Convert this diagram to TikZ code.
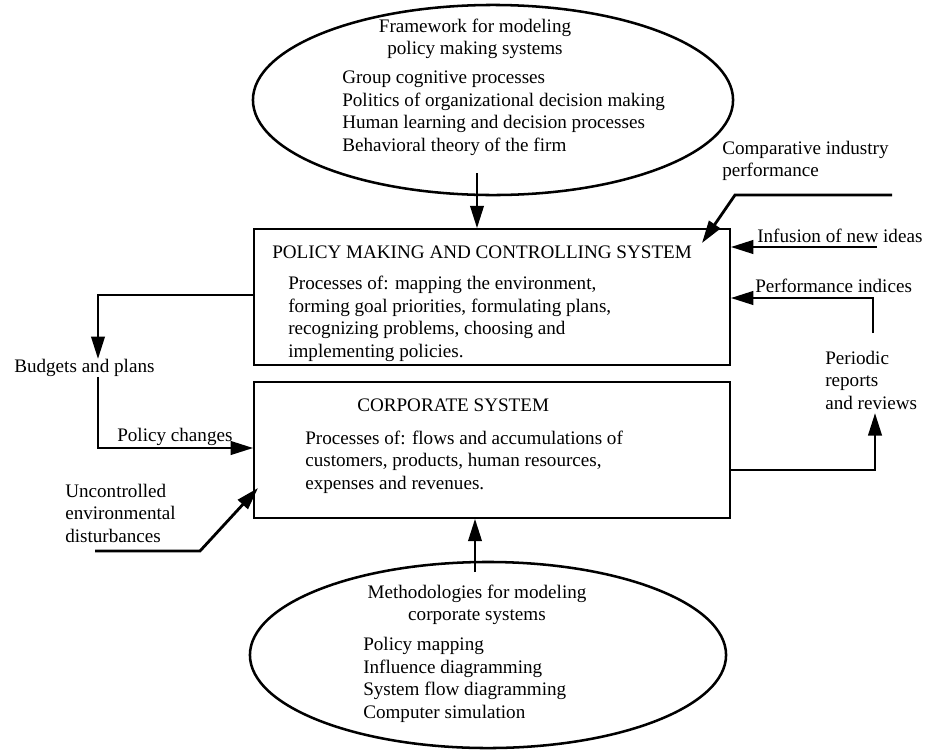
\documentclass[tikz,border=0pt]{standalone}
\usepackage{fontspec}
\setmainfont{Liberation Serif}
\usetikzlibrary{arrows.meta, shapes.geometric, positioning}

\begin{document}
\begin{tikzpicture}[x=0.025cm, y=-0.025cm,
  every node/.style={font=\fontsize{13.6}{16}\selectfont},
  txt/.style={anchor=west, inner sep=0pt, align=left},
  head/.style={inner sep=0pt, align=center},
  sysbox/.style={draw, line width=1pt, inner sep=0pt,
    minimum width=11.9cm, minimum height=3.4cm},
  oval/.style={draw, ellipse, line width=1.8pt, inner sep=0pt},
  flow/.style={line width=2pt, -{Triangle[length=16pt, width=9.5pt]}}]
\useasboundingbox (0,0) rectangle (925,750);
% Ovals and boxes
\node[oval, minimum width=12cm, minimum height=4.75cm] (frame) at (493,100) {};
\node[oval, minimum width=11.9cm, minimum height=4.65cm] (method) at (488,655) {};
\node[sysbox] (policy) at (492,297) {};
\node[sysbox] (corp) at (492,450) {};
% Texts inside
\node[head] (frame-title) at (475,39) {Framework for modeling\\policy making systems};
\node[txt] (frame-list) at (342,113) {Group cognitive processes\\
  Politics of organizational decision making\\
  Human learning and decision processes\\
  Behavioral theory of the firm};
\node[txt] (policy-title) at (272,252) {POLICY MAKING AND CONTROLLING SYSTEM};
\node[txt] (policy-body) at (288,319) {Processes of: mapping the environment,\\
  forming goal priorities, formulating plans,\\
  recognizing problems, choosing and\\
  implementing policies.};
\node[txt] (corp-title) at (357,405) {CORPORATE SYSTEM};
\node[txt] (corp-body) at (305,462) {Processes of: flows and accumulations of\\
  customers, products, human resources,\\
  expenses and revenues.};
\node[head] (method-title) at (477,605) {Methodologies for modeling\\corporate systems};
\node[txt] (method-list) at (363,680) {Policy mapping\\Influence diagramming\\
  System flow diagramming\\Computer simulation};
% Outside labels
\node[txt] (budgets) at (14,368) {Budgets and plans};
\node[txt] (changes) at (117,437) {Policy changes};
\node[txt] (dist) at (65,513) {Uncontrolled\\environmental\\disturbances};
\node[txt] (compare) at (722,161) {Comparative industry\\performance};
\node[txt] (ideas) at (757,236) {Infusion of new ideas};
\node[txt] (indices) at (755,286) {Performance indices};
\node[txt] (reports) at (825,380) {Periodic\\reports\\and reviews};
% Coordinates
\coordinate (f-start) at (477,173);
\coordinate (m-start) at (475,572);
\coordinate (c-start) at (892,195);
\coordinate (c-bend) at (735,195);
\coordinate (c-tip) at (702,243);
\coordinate (i-start) at (877,247);
\coordinate (p-start) at (873,333);
\coordinate (p-bend) at (873,298);
\coordinate (r-bend) at (875,470);
\coordinate (r-tip) at (875,413);
\coordinate (b-bend) at (98,295);
\coordinate (pc-bend) at (98,448);
\coordinate (d-start) at (95,551);
\coordinate (d-bend) at (200,551);
\coordinate (d-tip) at (258,488);
% Arrows
\draw[flow] (f-start) -- (f-start |- policy.north);
\draw[flow] (m-start) -- (m-start |- corp.south);
\draw[flow] (c-start) -- (c-bend) -- (c-tip);
\draw[flow] (i-start) -- (i-start -| policy.east);
\draw[flow] (p-start) -- (p-bend) -- (p-bend -| policy.east);
\draw[flow] (r-bend -| corp.east) -- (r-bend) -- (r-tip);
\draw[flow] (b-bend -| policy.west) -- (b-bend) -- (b-bend |- budgets.north);
\draw[flow] (pc-bend |- budgets.south) -- (pc-bend) -- (pc-bend -| corp.west);
\draw[flow] (d-start) -- (d-bend) -- (d-tip);
\end{tikzpicture}
\end{document}
